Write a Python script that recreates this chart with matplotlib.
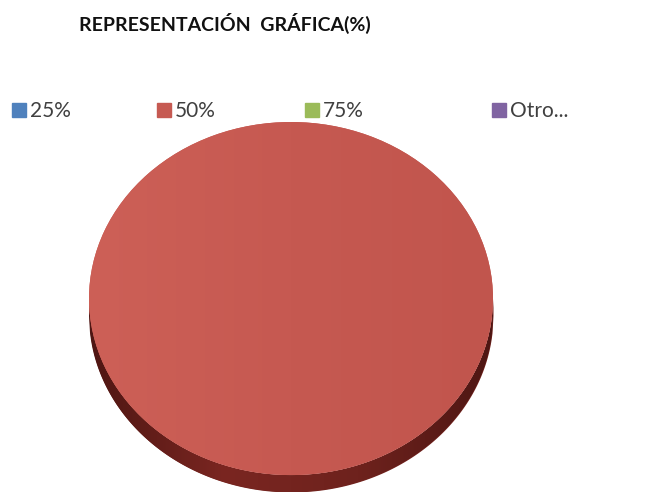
import matplotlib.pyplot as plt
import numpy as np
from matplotlib.colors import LinearSegmentedColormap

# Survey answers and their share of responses
labels = ['25%', '50%', '75%', 'Otro...']
values = [0, 100, 0, 0]
colors = ['#4F81BD', '#C65A52', '#9BBB59', '#8064A2']
title = 'REPRESENTACIÓN  GRÁFICA(%)'

plt.rcParams['font.family'] = ['Lato', 'DejaVu Sans']

fig = plt.figure(figsize=(6.66, 4.92), dpi=100)

# axes placed so the pie top spans x 89-493 px and y 122-475 px
depth = 0.096  # thickness of the 3D rim, in radius units
ax = fig.add_axes([89 / 666, 0.0, 404 / 666, 370 / 492])
wedges, _ = ax.pie(values, colors=colors, radius=1, startangle=90,
                   counterclock=False, wedgeprops=dict(linewidth=0))
ax.set_aspect('auto')
ax.axis('off')

# rim of the 3D pie: lower half of the ellipse pushed down by depth
x = np.linspace(-1, 1, 400)
lower = -np.sqrt(np.clip(1 - x ** 2, 0, None))
rim = ax.fill_between(x, lower - depth, lower, color='#74241F', lw=0, zorder=0)
rim_cmap = LinearSegmentedColormap.from_list('rim', ['#4E1613', '#7A2621', '#6E221D', '#4E1613'])
grad = np.tile(np.linspace(0, 1, 256), (2, 1))
img = ax.imshow(grad, cmap=rim_cmap, extent=(-1, 1, -1 - depth, 0),
                aspect='auto', zorder=0.5)
img.set_clip_path(rim.get_paths()[0], ax.transData)

# soft left-to-right shading on the top face
top_cmap = LinearSegmentedColormap.from_list('top', ['#CD6057', '#C65951', '#C1554D'])
face = ax.imshow(grad, cmap=top_cmap, extent=(-1, 1, -1, 1),
                 aspect='auto', zorder=2)
face.set_clip_path(wedges[values.index(max(values))])
ax.set_xlim(-1, 1)
ax.set_ylim(-1 - depth, 1)

fig.text(225 / 666, 1 - 23 / 492, title, ha='center', va='center',
         fontsize=14, fontweight='bold', color='#111111')

# legend entries spaced along the top row, one box each
legend_x = [12, 157, 305, 492]
for lab, col, lx in zip(labels, colors, legend_x):
    fig.legend([plt.Rectangle((0, 0), 1, 1, color=col)], [lab], loc='center left',
               bbox_to_anchor=(lx / 666, 1 - 111 / 492), frameon=False,
               fontsize=15, handlelength=0.65, handleheight=0.65,
               handletextpad=0.2, borderpad=0, borderaxespad=0,
               labelcolor='#404040')

fig.savefig('out.png', dpi=100, facecolor='white')
